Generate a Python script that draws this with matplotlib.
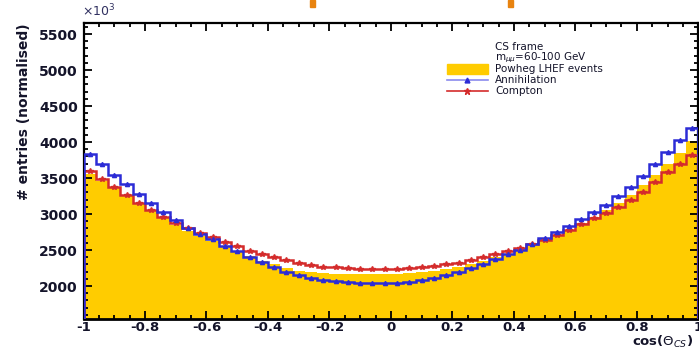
import numpy as np
import matplotlib.pyplot as plt
from matplotlib.patches import Rectangle
from matplotlib.ticker import MultipleLocator

# cos(theta_CS) binning: 50 bins from -1 to 1
edges = np.linspace(-1, 1, 51)
centres = 0.5 * (edges[:-1] + edges[1:])

# Powheg LHEF events (filled)
powheg = [3560, 3460, 3360, 3250, 3140, 3040, 2940, 2850, 2770, 2700,
          2630, 2550, 2480, 2410, 2350, 2300, 2250, 2215, 2195, 2180,
          2170, 2165, 2160, 2160, 2165, 2170, 2180, 2195, 2210, 2230,
          2260, 2300, 2350, 2400, 2450, 2500, 2560, 2630, 2700, 2780,
          2870, 2960, 3050, 3150, 3270, 3400, 3540, 3700, 3850, 4010]

# Annihilation
annih = [3833, 3695, 3542, 3412, 3273, 3148, 3032, 2917, 2810, 2722,
         2650, 2560, 2480, 2400, 2330, 2268, 2200, 2150, 2115, 2090,
         2068, 2050, 2042, 2037, 2040, 2046, 2060, 2083, 2110, 2150,
         2190, 2250, 2310, 2370, 2440, 2500, 2580, 2660, 2750, 2840,
         2930, 3030, 3130, 3250, 3380, 3530, 3690, 3860, 4030, 4190]

# Compton
compton = [3597, 3482, 3380, 3264, 3148, 3055, 2954, 2870, 2800, 2740,
           2680, 2610, 2555, 2490, 2440, 2398, 2355, 2315, 2290, 2268,
           2259, 2245, 2236, 2231, 2231, 2240, 2250, 2265, 2280, 2300,
           2320, 2360, 2400, 2440, 2480, 2523, 2580, 2640, 2708, 2778,
           2860, 2940, 3020, 3100, 3200, 3310, 3440, 3590, 3700, 3820]

xticks = [-1, -0.8, -0.6, -0.4, -0.2, 0, 0.2, 0.4, 0.6, 0.8, 1]
xticklabels = ['-1', '-0.8', '-0.6', '-0.4', '-0.2', '0', '0.2', '0.4', '0.6', '0.8', '1']
yticks = [2000, 2500, 3000, 3500, 4000, 4500, 5000, 5500]

yellow = '#ffcc00'
blue = '#2c2cd6'
red = '#d42c2c'
ink = '#14142a'

plt.rcParams['font.family'] = ['DejaVu Sans']

fig = plt.figure(figsize=(6.99, 3.5), dpi=100)
ax = fig.add_axes([0.1195, 0.0886, 0.8795, 0.8457])

ax.stairs(powheg, edges, fill=True, color=yellow, baseline=0, zorder=1)
ax.stairs(compton, edges, color=red, lw=1.8, zorder=3)
ax.plot(centres, compton, ls='none', marker='*', ms=4, color=red, zorder=4)
ax.stairs(annih, edges, color=blue, lw=1.8, zorder=3)
ax.plot(centres, annih, ls='none', marker='^', ms=3, color=blue, zorder=4)

ax.set_xlim(-1, 1)
ax.set_ylim(1542, 5653)

ax.set_xticks(xticks)
ax.set_xticklabels(xticklabels)
ax.set_yticks(yticks)
ax.xaxis.set_minor_locator(MultipleLocator(0.05))
ax.yaxis.set_minor_locator(MultipleLocator(100))
ax.tick_params(which='both', direction='in', top=True, right=True,
               colors='black', width=1.3)
ax.tick_params(which='major', length=5.5, labelsize=10, labelcolor=ink, pad=4)
ax.tick_params(axis='x', which='major', labelsize=9.5, pad=1.5)
ax.tick_params(which='minor', length=2.8)
for lab in ax.get_xticklabels() + ax.get_yticklabels():
    lab.set_fontweight('bold')
for sp in ax.spines.values():
    sp.set_linewidth(1.6)
ax.spines['bottom'].set_linewidth(2.0)

ax.set_ylabel('# entries (normalised)', fontsize=10, fontweight='bold',
              color=ink, loc='top', labelpad=6)
fig.text(0.991, 0.0, r'cos($\Theta_{CS}$)', ha='right', va='bottom',
         fontsize=9.5, fontweight='bold', color=ink)
fig.text(0.118, 0.945, r'$\times10^{3}$', ha='left', va='bottom',
         fontsize=9, color='#303060')

# legend, drawn by hand in axes coordinates
def fx(px):
    return (px - 83.5) / 615.0

def fy(py):
    return (319.0 - py) / 296.0

tx = fx(495)
lfs = 7.5
ax.text(tx, fy(47), 'CS frame', transform=ax.transAxes, fontsize=lfs,
        color=ink, va='center')
ax.text(tx, fy(58), r'm$_{\mu\mu}$=60-100 GeV', transform=ax.transAxes,
        fontsize=lfs, color=ink, va='center')
ax.add_patch(Rectangle((fx(447), fy(74)), fx(488) - fx(447), fy(64) - fy(74),
                       transform=ax.transAxes, color=yellow, zorder=5))
ax.text(tx, fy(69), 'Powheg LHEF events', transform=ax.transAxes,
        fontsize=lfs, color=ink, va='center')
ax.plot([fx(447), fx(488)], [fy(80), fy(80)], transform=ax.transAxes,
        color='#8a8aee', lw=1.2, zorder=5)
ax.plot([fx(467.5)], [fy(80)], transform=ax.transAxes, marker='^', ms=3.5,
        color=blue, zorder=6)
ax.text(tx, fy(80), 'Annihilation', transform=ax.transAxes, fontsize=lfs,
        color=ink, va='center')
ax.plot([fx(447), fx(488)], [fy(91), fy(91)], transform=ax.transAxes,
        color=red, lw=1.2, zorder=5)
ax.plot([fx(467.5)], [fy(91)], transform=ax.transAxes, marker='*', ms=4.5,
        color=red, zorder=6)
ax.text(tx, fy(91), 'Compton', transform=ax.transAxes, fontsize=lfs,
        color=ink, va='center')

# orange fragments poking in at the top edge
for x0 in (310, 508):
    fig.patches.append(Rectangle((x0 / 699.0, 1 - 7 / 350.0), 5 / 699.0, 7 / 350.0,
                                 transform=fig.transFigure, color='#e8830f'))

fig.savefig('out.png', dpi=100)
